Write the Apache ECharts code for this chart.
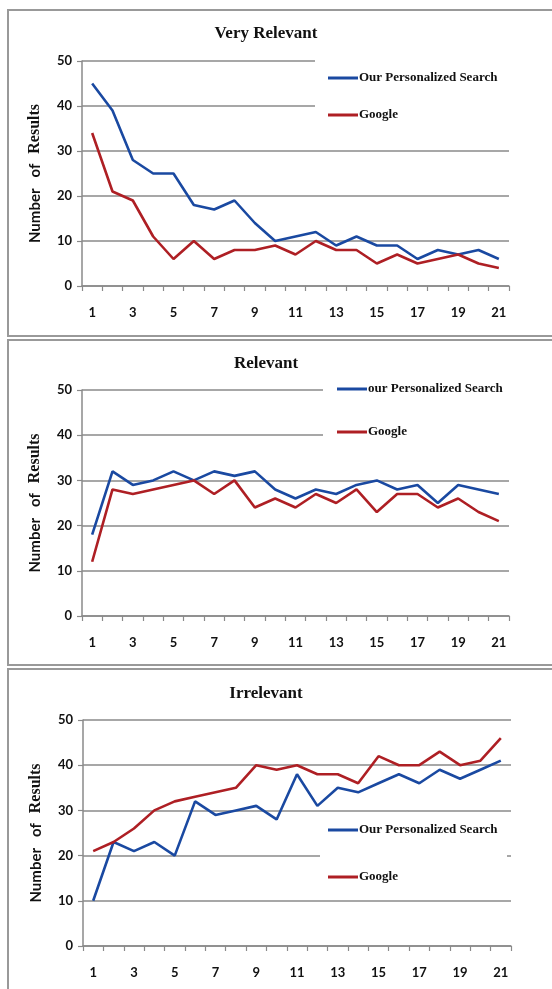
<!DOCTYPE html>
<html>
<head>
<meta charset="utf-8">
<script src="https://cdn.jsdelivr.net/npm/echarts@6/dist/echarts.min.js"></script>
<style>
html,body{margin:0;padding:0;background:#fff;}
#chart{width:552px;height:989px;}
</style>
</head>
<body>
<div id="chart"></div>
<script>
const categories = ['1','2','3','4','5','6','7','8','9','10','11','12','13','14','15','16','17','18','19','20','21'];
const yTicks = [0, 10, 20, 30, 40, 50];
const veryRelevantOurs = [45,39,28,25,25,18,17,19,14,10,11,12,9,11,9,9,6,8,7,8,6];
const veryRelevantGoogle = [34,21,19,11,6,10,6,8,8,9,7,10,8,8,5,7,5,6,7,5,4];
const relevantOurs = [18,32,29,30,32,30,32,31,32,28,26,28,27,29,30,28,29,25,29,28,27];
const relevantGoogle = [12,28,27,28,29,30,27,30,24,26,24,27,25,28,23,27,27,24,26,23,21];
const irrelevantOurs = [10,23,21,23,20,32,29,30,31,28,38,31,35,34,36,38,36,39,37,39,41];
const irrelevantGoogle = [21,23,26,30,32,33,34,35,40,39,40,38,38,36,42,40,40,43,40,41,46];
const panelTitles = ['Very Relevant', 'Relevant', 'Irrelevant'];
const oursNames = ['Our Personalized Search', 'our Personalized Search', 'Our Personalized Search'];
const googleName = 'Google';

const BLUE = '#1a49a1';
const RED = '#ae1f24';
const GRAY = '#8a8a8a';

const grids = [
  {left: 82, right: 43, top: 61, height: 225},
  {left: 82, right: 43, top: 390, height: 226},
  {left: 83, right: 41, top: 720, height: 226}
];
const titleTops = [23, 353, 683];
const legendPos = [
  {left: 328, top: 71, itemGap: 23},
  {left: 337, top: 382, itemGap: 29},
  {left: 328, top: 823, itemGap: 33}
];
const seriesData = [
  [veryRelevantOurs, veryRelevantGoogle],
  [relevantOurs, relevantGoogle],
  [irrelevantOurs, irrelevantGoogle]
];

const chart = echarts.init(document.getElementById('chart'));

const xAxis = [], yAxis = [], series = [], title = [], legend = [];
for (let i = 0; i < 3; i++) {
  xAxis.push({
    type: 'category', gridIndex: i, data: categories, boundaryGap: true,
    axisLine: {lineStyle: {color: GRAY, width: 1.5}},
    axisTick: {show: true, interval: 0, length: 5, lineStyle: {color: GRAY, width: 1.2}},
    axisLabel: {interval: 1, margin: 20, color: '#111', fontFamily: 'Lato', fontWeight: 'bold', fontSize: 13},
    splitLine: {show: false}
  });
  yAxis.push({
    type: 'value', gridIndex: i, min: yTicks[0], max: yTicks[yTicks.length - 1], interval: 10,
    axisLine: {show: true, lineStyle: {color: GRAY, width: 1.5}},
    axisTick: {show: true, length: 5, lineStyle: {color: GRAY, width: 1.2}},
    axisLabel: {margin: 10, color: '#111', fontFamily: 'Lato', fontWeight: 'bold', fontSize: 13},
    splitLine: {show: true, lineStyle: {color: GRAY, width: 1.5}},
    name: '{a|Number   of}   {b|Results}',
    nameLocation: 'middle', nameGap: 39, nameRotate: 90,
    nameTextStyle: {
      rich: {
        a: {fontFamily: 'Lato', fontWeight: 'bold', fontSize: 15, color: '#111'},
        b: {fontFamily: 'Liberation Serif', fontWeight: 'bold', fontSize: 16, color: '#111'}
      }
    }
  });
  series.push({
    name: oursNames[i], type: 'line', xAxisIndex: i, yAxisIndex: i,
    data: seriesData[i][0], symbol: 'none', lineStyle: {color: BLUE, width: 2.6},
    itemStyle: {color: BLUE}, z: 2
  });
  series.push({
    name: googleName, type: 'line', xAxisIndex: i, yAxisIndex: i,
    data: seriesData[i][1], symbol: 'none', lineStyle: {color: RED, width: 2.6},
    itemStyle: {color: RED}, z: 2
  });
  title.push({
    text: panelTitles[i], left: 266, top: titleTops[i] + 2, textAlign: 'center', padding: 0,
    textStyle: {fontFamily: 'Liberation Serif', fontWeight: 'bold', fontSize: 17, color: '#111'}
  });
  legend.push({
    data: [oursNames[i], googleName], orient: 'vertical',
    left: legendPos[i].left, top: legendPos[i].top, itemGap: legendPos[i].itemGap,
    padding: 0, icon: 'rect', itemWidth: 30, itemHeight: 3, selectedMode: false,
    textStyle: {fontFamily: 'Liberation Serif', fontWeight: 'bold', fontSize: 13, color: '#111', lineHeight: 14, padding: [0, 0, 0, -4]},
    z: 5
  });
}

const graphic = [
  {type: 'rect', shape: {x: 8, y: 10, width: 560, height: 326}, style: {fill: 'none', stroke: '#999', lineWidth: 2}, z: 10, silent: true},
  {type: 'rect', shape: {x: 8, y: 340, width: 560, height: 325}, style: {fill: 'none', stroke: '#999', lineWidth: 2}, z: 10, silent: true},
  {type: 'rect', shape: {x: 8, y: 669, width: 560, height: 340}, style: {fill: 'none', stroke: '#999', lineWidth: 2}, z: 10, silent: true},
  {type: 'rect', shape: {x: 315, y: 55, width: 230, height: 85}, style: {fill: '#fff'}, z: 3, silent: true},
  {type: 'rect', shape: {x: 323, y: 383, width: 222, height: 62}, style: {fill: '#fff'}, z: 3, silent: true},
  {type: 'rect', shape: {x: 320, y: 814, width: 187, height: 80}, style: {fill: '#fff'}, z: 3, silent: true}
];

chart.setOption({
  animation: false,
  backgroundColor: '#fff',
  title: title,
  legend: legend,
  grid: grids,
  xAxis: xAxis,
  yAxis: yAxis,
  series: series,
  graphic: graphic
});
</script>
</body>
</html>
